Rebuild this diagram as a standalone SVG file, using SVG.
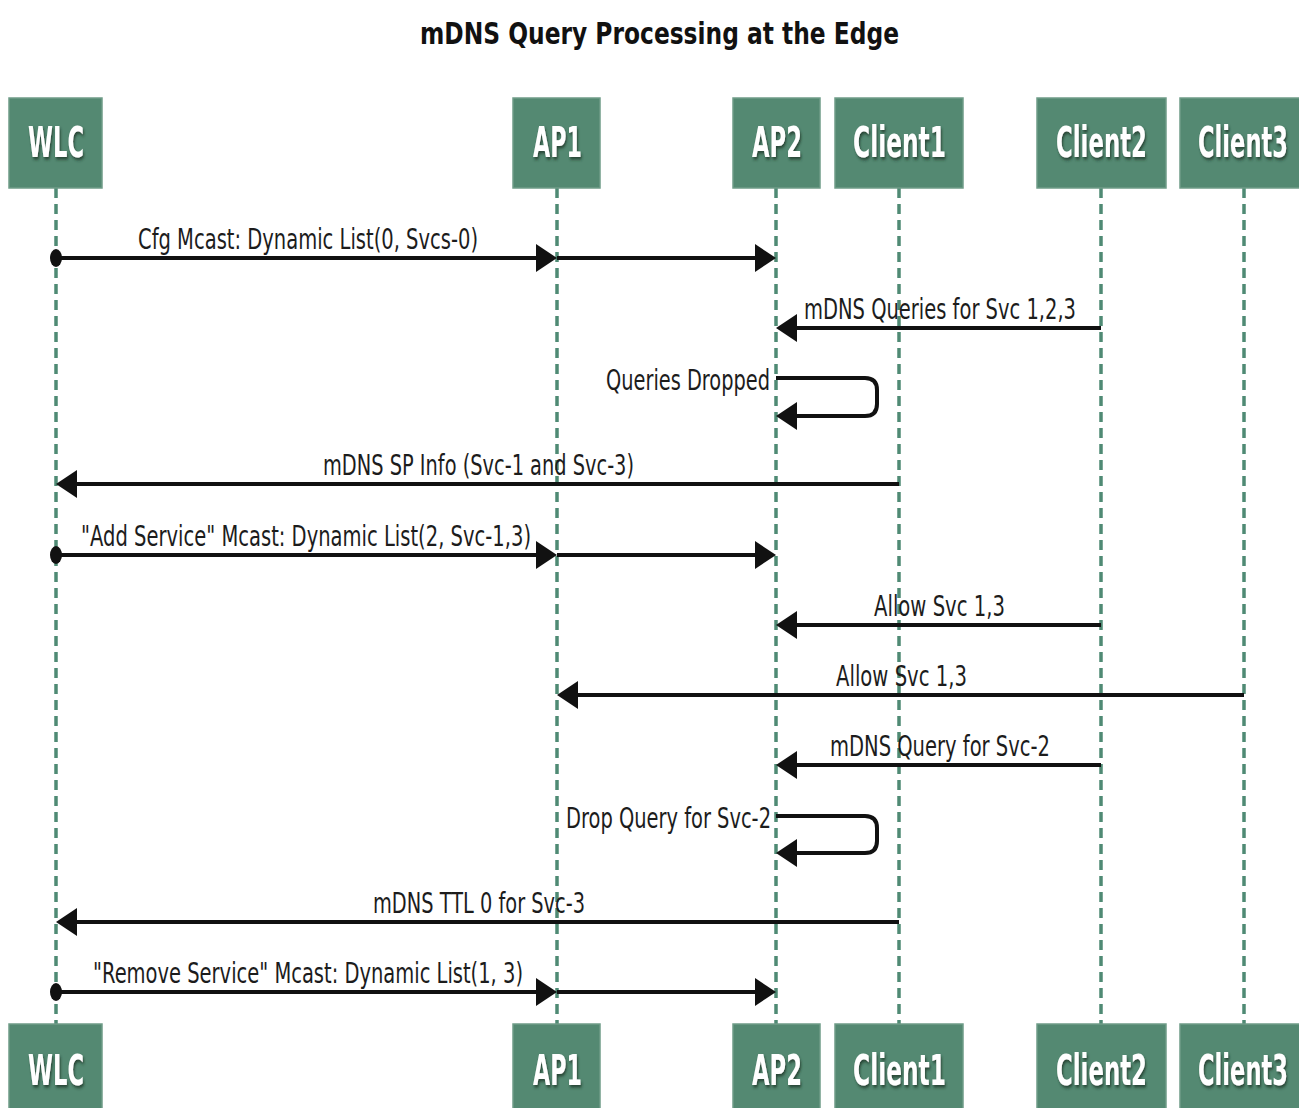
<svg xmlns="http://www.w3.org/2000/svg" width="1299" height="1108" viewBox="0 0 1299 1108">
  <style>
    .title { font-family: "DejaVu Sans", "Liberation Sans", sans-serif; font-weight: bold; font-size: 30px; fill: #111; }
    .box { fill: #548972; stroke: #6f9c88; stroke-width: 1.5; }
    .pname { font-family: "DejaVu Sans", "Liberation Sans", sans-serif; font-weight: bold; font-size: 42px; fill: #ffffff; filter: url(#shadow); }
    .life { stroke: #4f8a74; stroke-width: 3.5; stroke-dasharray: 10 6; fill: none; }
    .msg { stroke: #111; stroke-width: 4; fill: none; marker-end: url(#arrow); }
    .lbl { font-family: "DejaVu Sans", "Liberation Sans", sans-serif; font-size: 28px; fill: #1c1c1c; }
    .dot { fill: #111; }
  </style>
  <defs>
    <filter id="shadow" x="-20%" y="-20%" width="140%" height="140%">
      <feDropShadow dx="2" dy="2.5" stdDeviation="1.5" flood-color="#1d3a2c" flood-opacity="0.85"/>
    </filter>
    <marker id="arrow" markerUnits="userSpaceOnUse" markerWidth="24" markerHeight="32" refX="15" refY="15" orient="auto">
      <path d="M0,1 L21,15 L0,29 Z" fill="#111"/>
    </marker>
  </defs>

  <text class="title" x="420" y="44" textLength="479" lengthAdjust="spacingAndGlyphs">mDNS Query Processing at the Edge</text>

  <!-- lifelines -->
  <g id="lifelines">
    <line class="life" x1="56" y1="188" x2="56" y2="1024"/>
    <line class="life" x1="557" y1="188" x2="557" y2="1024"/>
    <line class="life" x1="776" y1="188" x2="776" y2="1024"/>
    <line class="life" x1="899" y1="188" x2="899" y2="1024"/>
    <line class="life" x1="1101" y1="188" x2="1101" y2="1024"/>
    <line class="life" x1="1244" y1="188" x2="1244" y2="1024"/>
  </g>

  <!-- participants (top and bottom heads); names are drawn narrow with a horizontal scale -->
  <g id="WLC">
    <rect class="box" x="9" y="98" width="93" height="90"/>
    <text class="pname" transform="translate(28,157) scale(0.55,1)" textLength="101.8" lengthAdjust="spacingAndGlyphs">WLC</text>
    <rect class="box" x="9" y="1024" width="93" height="90"/>
    <text class="pname" transform="translate(28,1085) scale(0.55,1)" textLength="101.8" lengthAdjust="spacingAndGlyphs">WLC</text>
  </g>
  <g id="AP1">
    <rect class="box" x="513" y="98" width="87" height="90"/>
    <text class="pname" transform="translate(533,157) scale(0.55,1)" textLength="89.1" lengthAdjust="spacingAndGlyphs">AP1</text>
    <rect class="box" x="513" y="1024" width="87" height="90"/>
    <text class="pname" transform="translate(533,1085) scale(0.55,1)" textLength="89.1" lengthAdjust="spacingAndGlyphs">AP1</text>
  </g>
  <g id="AP2">
    <rect class="box" x="733" y="98" width="87" height="90"/>
    <text class="pname" transform="translate(752,157) scale(0.55,1)" textLength="90.9" lengthAdjust="spacingAndGlyphs">AP2</text>
    <rect class="box" x="733" y="1024" width="87" height="90"/>
    <text class="pname" transform="translate(752,1085) scale(0.55,1)" textLength="90.9" lengthAdjust="spacingAndGlyphs">AP2</text>
  </g>
  <g id="Client1">
    <rect class="box" x="835" y="98" width="128" height="90"/>
    <text class="pname" transform="translate(853,157) scale(0.55,1)" textLength="169.1" lengthAdjust="spacingAndGlyphs">Client1</text>
    <rect class="box" x="835" y="1024" width="128" height="90"/>
    <text class="pname" transform="translate(853,1085) scale(0.55,1)" textLength="169.1" lengthAdjust="spacingAndGlyphs">Client1</text>
  </g>
  <g id="Client2">
    <rect class="box" x="1037" y="98" width="129" height="90"/>
    <text class="pname" transform="translate(1056,157) scale(0.55,1)" textLength="165.5" lengthAdjust="spacingAndGlyphs">Client2</text>
    <rect class="box" x="1037" y="1024" width="129" height="90"/>
    <text class="pname" transform="translate(1056,1085) scale(0.55,1)" textLength="165.5" lengthAdjust="spacingAndGlyphs">Client2</text>
  </g>
  <g id="Client3">
    <rect class="box" x="1180" y="98" width="130" height="90"/>
    <text class="pname" transform="translate(1198,157) scale(0.55,1)" textLength="163.6" lengthAdjust="spacingAndGlyphs">Client3</text>
    <rect class="box" x="1180" y="1024" width="130" height="90"/>
    <text class="pname" transform="translate(1198,1085) scale(0.55,1)" textLength="163.6" lengthAdjust="spacingAndGlyphs">Client3</text>
  </g>

  <!-- messages -->
  <g id="connectors">
    <!-- config list -->
    <ellipse class="dot" cx="56" cy="258" rx="6" ry="9"/>
    <line class="msg" x1="56" y1="258" x2="551" y2="258"/>
    <line class="msg" x1="557" y1="258" x2="770" y2="258"/>
    <text class="lbl" x="138" y="249" textLength="340" lengthAdjust="spacingAndGlyphs">Cfg Mcast: Dynamic List(0, Svcs-0)</text>
    <!-- queries from Client2 -->
    <line class="msg" x1="1101" y1="328" x2="782" y2="328"/>
    <text class="lbl" x="804" y="319" textLength="272" lengthAdjust="spacingAndGlyphs">mDNS Queries for Svc 1,2,3</text>
    <!-- self: dropped -->
    <path class="msg" d="M776,378 H865 Q877,378 877,390 V404 Q877,416 865,416 H782"/>
    <text class="lbl" x="606" y="390" textLength="164" lengthAdjust="spacingAndGlyphs">Queries Dropped</text>
    <!-- SP info -->
    <line class="msg" x1="899" y1="484" x2="62" y2="484"/>
    <text class="lbl" x="323" y="475" textLength="311" lengthAdjust="spacingAndGlyphs">mDNS SP Info (Svc-1 and Svc-3)</text>
    <!-- add service -->
    <ellipse class="dot" cx="56" cy="555" rx="6" ry="9"/>
    <line class="msg" x1="56" y1="555" x2="551" y2="555"/>
    <line class="msg" x1="557" y1="555" x2="770" y2="555"/>
    <text class="lbl" x="81" y="546" textLength="450" lengthAdjust="spacingAndGlyphs">"Add Service" Mcast: Dynamic List(2, Svc-1,3)</text>
    <!-- allow at AP2 -->
    <line class="msg" x1="1101" y1="625" x2="782" y2="625"/>
    <text class="lbl" x="874" y="616" textLength="131" lengthAdjust="spacingAndGlyphs">Allow Svc 1,3</text>
    <!-- allow at AP1 -->
    <line class="msg" x1="1244" y1="695" x2="563" y2="695"/>
    <text class="lbl" x="836" y="686" textLength="131" lengthAdjust="spacingAndGlyphs">Allow Svc 1,3</text>
    <!-- query Svc-2 -->
    <line class="msg" x1="1101" y1="765" x2="782" y2="765"/>
    <text class="lbl" x="830" y="756" textLength="220" lengthAdjust="spacingAndGlyphs">mDNS Query for Svc-2</text>
    <!-- self: drop Svc-2 -->
    <path class="msg" d="M776,816 H865 Q877,816 877,828 V841 Q877,853 865,853 H782"/>
    <text class="lbl" x="566" y="828" textLength="205" lengthAdjust="spacingAndGlyphs">Drop Query for Svc-2</text>
    <!-- TTL 0 -->
    <line class="msg" x1="899" y1="922" x2="62" y2="922"/>
    <text class="lbl" x="373" y="913" textLength="212" lengthAdjust="spacingAndGlyphs">mDNS TTL 0 for Svc-3</text>
    <!-- remove service -->
    <ellipse class="dot" cx="56" cy="992" rx="6" ry="9"/>
    <line class="msg" x1="56" y1="992" x2="551" y2="992"/>
    <line class="msg" x1="557" y1="992" x2="770" y2="992"/>
    <text class="lbl" x="93" y="983" textLength="430" lengthAdjust="spacingAndGlyphs">"Remove Service" Mcast: Dynamic List(1, 3)</text>
  </g>
</svg>
